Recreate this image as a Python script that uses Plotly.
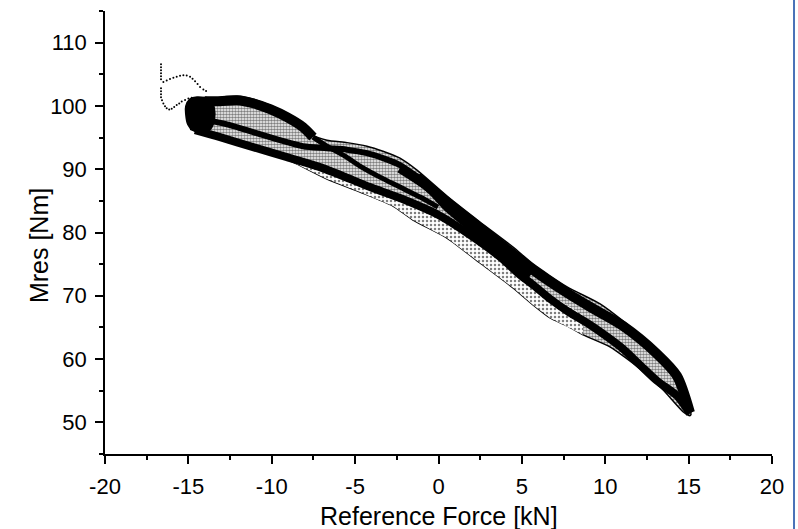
import plotly.graph_objects as go

# ---- measured data (Reference Force in kN, Mres in Nm) ----

# outer envelope of the hysteresis band: upper edge (left -> right)
env_upper_x = [-14.78, -14.00, -13.52, -13.10, -12.08, -11.12, -10.10, -9.09, -8.13, -7.53,
               -6.69, -5.49, -4.29, -3.33, -2.31, -1.29, 0.51, 2.49, 4.47, 5.67,
               7.71, 9.69, 11.06, 13.10, 14.30, 15.14]
env_upper_y = [100.90, 101.37, 101.06, 101.37, 101.53, 101.06, 100.11, 98.85, 97.27, 95.38,
               94.59, 94.20, 93.64, 92.85, 91.75, 89.86, 85.76, 81.66, 77.71, 75.03,
               71.41, 68.72, 66.03, 61.45, 57.83, 51.21]
# lower edge (right -> left)
env_lower_x = [15.08, 14.66, 13.46, 12.08, 10.28, 8.67, 7.71, 6.69, 5.67, 4.47,
               2.49, 0.51, -1.53, -2.73, -4.71, -6.69, -8.73, -10.10, -11.30, -12.68,
               -13.88, -14.90]
env_lower_y = [51.05, 51.68, 55.14, 58.46, 61.93, 63.83, 65.24, 66.50, 68.56, 71.25,
               75.19, 79.13, 81.97, 84.18, 86.39, 88.44, 91.12, 92.70, 93.80, 94.90,
               95.54, 96.32]

# sparse scatter below the band
sparse_x = [-9.09, -7.11, -5.13, -4.11, -2.31, 0.0, 1.89, 3.69, 4.89, 6.69, 8.67,
            8.67, 6.69, 5.67, 4.47, 2.49, 0.51, -1.53, -2.73, -4.71, -6.69, -8.73]
sparse_y = [92.38, 90.80, 88.75, 87.65, 85.91, 83.23, 80.08, 76.61, 73.77, 70.15, 66.98,
            63.83, 66.50, 68.56, 71.25, 75.19, 79.13, 81.97, 84.18, 86.39, 88.44, 91.12]

# first loop, upper branch (heavy part)
loop1_top_x = [-14.00, -13.10, -12.08, -11.12, -10.10, -9.09, -8.13, -7.53]
loop1_top_y = [100.74, 100.74, 100.90, 100.43, 99.48, 98.22, 96.64, 95.06]
# same branch continuing through the second loop
loop1_cont_x = [-7.53, -6.69, -5.61, -4.71, -3.51, -2.31, -1.11, -0.03]
loop1_cont_y = [95.06, 93.64, 92.07, 90.49, 88.75, 87.18, 85.60, 84.02]

# middle branch: first loop -> top of second loop
mid_x = [-13.58, -12.50, -11.12, -9.51, -8.13, -6.69, -5.49, -4.29, -3.33, -2.31, -1.29, 0.51]
mid_y = [97.59, 96.96, 95.85, 94.59, 93.64, 93.33, 93.09, 92.54, 91.75, 90.65, 88.75, 84.81]

# right loop, upper branch
right_top_x = [-1.29, 0.51, 2.49, 4.47, 5.67, 7.71, 9.09, 11.06, 13.10, 14.30, 15.08]
right_top_y = [88.75, 84.81, 80.71, 76.61, 74.09, 70.46, 68.25, 65.24, 60.83, 57.35, 51.53]
# thick merged band below it
merged_x = [-2.31, -0.51, 0.51, 2.49, 4.47, 5.49]
merged_y = [90.18, 87.01, 84.18, 79.76, 75.19, 73.14]

# lower branch of the whole band
low_x = [-14.60, -13.10, -11.12, -9.09, -7.11, -5.13, -4.11, -2.31, 0.0, 1.89, 3.69,
         4.89, 5.67, 6.69, 7.71, 9.09, 10.28, 11.06, 12.08, 13.10, 14.30, 15.08]
low_y = [96.17, 95.06, 93.49, 91.91, 90.33, 88.28, 87.18, 85.44, 82.76, 79.61, 76.14,
         73.30, 71.72, 69.51, 67.62, 65.40, 63.20, 61.61, 59.09, 56.57, 54.20, 51.37]

# dense cluster at the left turning point
blob_x = [-14.90, -14.48, -14.00, -13.64, -13.46, -13.46, -13.70, -14.18, -14.72, -15.02,
          -15.14, -15.14, -14.90]
blob_y = [101.06, 101.37, 101.21, 100.74, 99.64, 97.74, 96.32, 95.85, 96.17, 97.11,
          98.69, 99.95, 101.06]

# isolated samples at the start of the run
start1_x = [-16.64, -16.64, -16.64, -16.64, -16.64, -16.64, -16.50, -16.30, -16.10, -15.90,
            -15.70, -15.50, -15.30, -15.10, -14.90, -14.75, -14.60, -14.45, -14.30, -14.10, -13.94]
start1_y = [106.58, 106.10, 105.63, 105.16, 104.68, 104.21, 103.80, 104.00, 104.25, 104.45,
            104.62, 104.75, 104.84, 104.82, 104.62, 104.30, 103.90, 103.45, 103.00, 102.60, 102.37]
start2_x = [-16.64, -16.64, -16.64, -16.64, -16.58, -16.50, -16.40, -16.30, -16.15, -16.00,
            -15.85, -15.70, -15.55, -15.40, -15.20, -15.00, -14.80]
start2_y = [102.79, 102.32, 101.85, 101.37, 100.90, 100.40, 99.95, 99.62, 99.45, 99.55,
            99.85, 100.15, 100.40, 100.70, 100.95, 101.17, 101.30]

x_ticks = [-20, -15, -10, -5, 0, 5, 10, 15, 20]
y_ticks = [50, 60, 70, 80, 90, 100, 110]

FONT = "Arial, Liberation Sans, sans-serif"
INK = "black"

fig = go.Figure()

# stippled body of the band
fig.add_trace(go.Scatter(
    x=env_upper_x + env_lower_x, y=env_upper_y + env_lower_y,
    fill="toself", mode="lines", line=dict(width=1.5, color=INK, shape="spline", smoothing=0.6),
    fillcolor="white",
    fillpattern=dict(shape=".", fgcolor=INK, bgcolor="white", size=3, solidity=0.6),
    hoverinfo="skip", showlegend=False))

# sparse scatter zone
fig.add_trace(go.Scatter(
    x=sparse_x, y=sparse_y, fill="toself", mode="lines", line=dict(width=0),
    fillcolor="white",
    fillpattern=dict(shape=".", fgcolor=INK, bgcolor="white", size=4, solidity=0.3),
    hoverinfo="skip", showlegend=False))

def band_line(xs, ys, width):
    fig.add_trace(go.Scatter(
        x=xs, y=ys, mode="lines",
        line=dict(color=INK, width=width, shape="spline", smoothing=0.8),
        hoverinfo="skip", showlegend=False))

band_line(loop1_top_x, loop1_top_y, 10)
band_line(loop1_cont_x, loop1_cont_y, 5)
band_line(mid_x, mid_y, 6)
band_line(right_top_x, right_top_y, 10)
band_line(merged_x, merged_y, 10)
band_line(low_x, low_y, 8)

fig.add_trace(go.Scatter(
    x=blob_x, y=blob_y, fill="toself", mode="lines",
    line=dict(color=INK, width=2, shape="spline"), fillcolor=INK,
    hoverinfo="skip", showlegend=False))

for sx, sy in ((start1_x, start1_y), (start2_x, start2_y)):
    fig.add_trace(go.Scatter(
        x=sx, y=sy, mode="markers", marker=dict(size=2, color=INK),
        hoverinfo="skip", showlegend=False))

axis_common = dict(
    showgrid=False, zeroline=False, showline=True, linecolor=INK, linewidth=1.5,
    ticks="outside", ticklen=8, tickwidth=1.5, tickcolor=INK,
    tickfont=dict(family=FONT, size=22, color=INK),
)

fig.update_xaxes(range=[-20, 20], tickvals=x_ticks, ticktext=[str(v) for v in x_ticks],
                 ticklabelstandoff=4,
                 minor=dict(dtick=2.5, ticklen=4, tickwidth=1.5, tickcolor=INK, ticks="outside"),
                 **axis_common)
fig.update_yaxes(range=[45, 115], tickvals=y_ticks, ticktext=[str(v) for v in y_ticks],
                 ticklabelstandoff=4,
                 minor=dict(dtick=5, ticklen=4, tickwidth=1.5, tickcolor=INK, ticks="outside"),
                 **axis_common)

fig.update_layout(
    width=798, height=529,
    margin=dict(l=105, r=26, t=11, b=75),
    paper_bgcolor="white", plot_bgcolor="white",
    annotations=[
        dict(text="Reference Force [kN]", x=0.5, y=-0.141, xref="paper", yref="paper",
             xanchor="center", yanchor="middle", showarrow=False,
             font=dict(family=FONT, size=25, color=INK)),
        dict(text="Mres [Nm]", x=-0.1, y=0.47, xref="paper", yref="paper",
             xanchor="center", yanchor="middle", showarrow=False, textangle=-90,
             font=dict(family=FONT, size=25, color=INK)),
    ],
    shapes=[dict(type="line", xref="paper", yref="paper", x0=1.033, x1=1.033,
                 y0=-0.17, y1=1.03, line=dict(color="#4a72b8", width=2))],
)

fig.write_html("out.html")
